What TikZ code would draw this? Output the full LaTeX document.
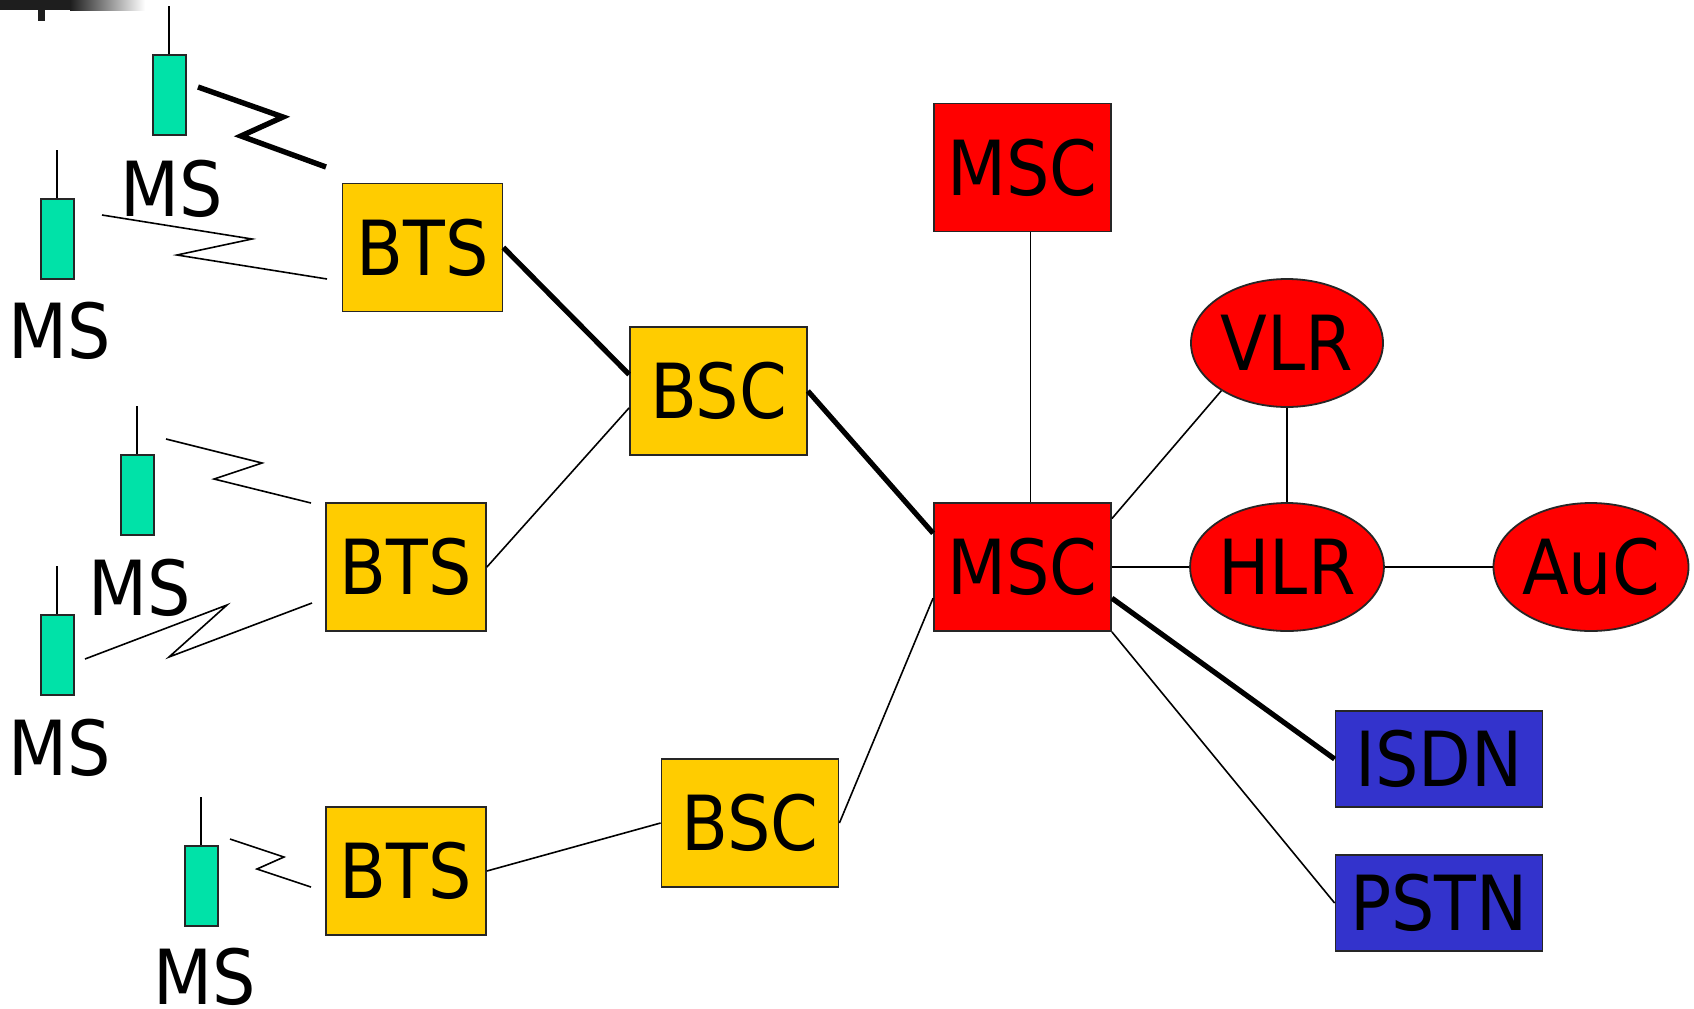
\documentclass[tikz,border=0pt]{standalone}
\usepackage{fontspec}
\setmainfont{DejaVu Sans}[FakeStretch=0.9]
\usetikzlibrary{shapes.geometric,calc}
\definecolor{msyellow}{RGB}{255,204,0}
\definecolor{msred}{RGB}{255,0,0}
\definecolor{msblue}{RGB}{51,51,204}
\definecolor{msgreen}{RGB}{0,226,168}
\definecolor{bardark}{RGB}{30,30,30}
\newcommand{\diagfont}{\fontsize{38}{40}\selectfont}
\begin{document}
\begin{tikzpicture}[x=0.5pt,y=-0.5pt,
  box/.style={draw=black!85, line width=0.9pt, inner sep=0pt, font=\diagfont},
  ybox/.style={box, fill=msyellow, minimum height=64pt},
  btsbox/.style={ybox, minimum width=80pt},
  bscbox/.style={ybox, minimum width=88.5pt},
  mscbox/.style={box, fill=msred, minimum width=88.5pt, minimum height=64pt},
  regbox/.style={box, ellipse, fill=msred, minimum width=96pt, minimum height=64pt},
  netbox/.style={box, fill=msblue, minimum width=103.5pt, minimum height=48pt},
  phone/.style={draw=black!85, line width=0.9pt, fill=msgreen, minimum width=16.35pt, minimum height=40pt, inner sep=0pt},
  mslabel/.style={font=\diagfont, inner sep=0pt},
  thinlink/.style={line width=0.8pt},
  thicklink/.style={line width=2.6pt},
  antenna/.style={line width=0.9pt}
]
\useasboundingbox (0,0) rectangle (1694,1008);
\fill[white] (0,0) rectangle (1694,1008);

% slide template remnant
\fill[bardark] (0,0) rectangle (70,10);
\shade[left color=bardark, right color=white] (70,0) rectangle (145,10);
\fill[bardark] (38,10) rectangle (45,21);

% base transceiver stations and controllers
\node[btsbox] (bts1) at (422.5,247.5) {BTS};
\node[btsbox] (bts2) at (406,567) {BTS};
\node[btsbox] (bts3) at (406,871) {BTS};
\node[bscbox] (bsc1) at (718.5,391) {BSC};
\node[bscbox] (bsc2) at (750,823) {BSC};
\node[mscbox] (msc1) at (1022.5,167.5) {MSC};
\node[mscbox] (msc2) at (1022.5,567) {MSC};
\node[regbox] (vlr) at (1287,343) {VLR};
\node[regbox] (hlr) at (1287,567) {HLR};
\node[regbox] (auc) at (1591,567) {AuC};
\node[netbox] (isdn) at (1439,759) {ISDN};
\node[netbox] (pstn) at (1439,903) {PSTN};

% mobile stations
\node[phone] (ms1) at (169.3,95.2) {};
\node[phone] (ms2) at (57.3,239) {};
\node[phone] (ms3) at (137.3,495) {};
\node[phone] (ms4) at (57.3,655) {};
\node[phone] (ms5) at (201.3,886) {};
\foreach \m in {ms1,ms2,ms3,ms4,ms5} {
  \draw[antenna] (\m.north) -- ++(0,-48);
}
\node[mslabel] (ms1l) at (172,188.5) {MS};
\node[mslabel] (ms2l) at (60,330.5) {MS};
\node[mslabel] (ms3l) at (140,588) {MS};
\node[mslabel] (ms4l) at (60,747.5) {MS};
\node[mslabel] (ms5l) at (204.5,977) {MS};

% radio links
\draw[line width=2.7pt] (198,87) -- (283,117) -- (241,136) -- (326,167);
\draw[thinlink] (102,215) -- (252,239) -- (177,255) -- (327,279);
\draw[thinlink] (166,439) -- (262,463) -- (214,479) -- (311,503);
\draw[thinlink] (85,659) -- (227,605) -- (169,657) -- (312,603);
\draw[thinlink] (230,839) -- (284,857) -- (257,869) -- (311,887);

% wired links
\draw[thicklink] (bts1.east) -- ($(bsc1.north west)!0.373!(bsc1.south west)$);
\draw[thinlink] (bts2.east) -- ($(bsc1.north west)!0.63!(bsc1.south west)$);
\draw[thicklink] (bsc1.east) -- ($(msc2.north west)!0.24!(msc2.south west)$);
\draw[thinlink] (bts3.east) -- (bsc2.west);
\draw[thinlink] (bsc2.east) -- ($(msc2.north west)!0.74!(msc2.south west)$);
\draw[thinlink] ($(msc1.south)+(8,0)$) -- ($(msc2.north)+(8,0)$);
\draw[thinlink] ($(msc2.north east)!0.127!(msc2.south east)$) -- (vlr.216);
\draw[thinlink] (vlr.south) -- (hlr.north);
\draw[thinlink] (msc2.east) -- (hlr.west);
\draw[thinlink] (hlr.east) -- (auc.west);
\draw[thicklink] ($(msc2.north east)!0.74!(msc2.south east)$) -- (isdn.west);
\draw[thinlink] (msc2.south east) -- (pstn.west);
\end{tikzpicture}
\end{document}
